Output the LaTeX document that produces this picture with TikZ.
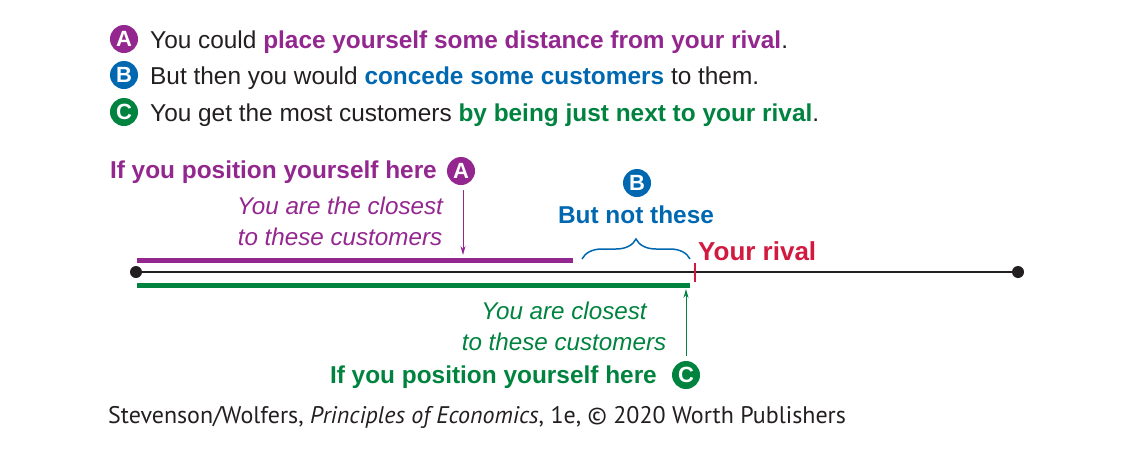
\documentclass[tikz,border=0pt]{standalone}
\usepackage{fontspec}
\setmainfont{Liberation Sans}
\newfontfamily\footfont{PT Sans}
\usetikzlibrary{decorations.pathreplacing,arrows.meta}
\definecolor{cpurple}{HTML}{93278F}
\definecolor{cblue}{HTML}{0067B1}
\definecolor{cgreen}{HTML}{00833E}
\definecolor{cred}{HTML}{D2193F}
\definecolor{cblack}{HTML}{231F20}
\begin{document}
\begin{tikzpicture}[x=1pt,y=-1pt,
  badge/.style={circle, fill=#1, text=white, font=\fontsize{22}{22}\selectfont\bfseries, inner sep=0pt, minimum size=28pt},
  legend/.style={anchor=base west, font=\fontsize{24.4}{26}\selectfont, text=cblack, inner sep=0pt},
  bigb/.style={font=\fontsize{24.4}{26}\selectfont\bfseries, inner sep=0pt},
  ital/.style={font=\fontsize{24.2}{31}\selectfont\itshape, inner sep=0pt, align=center},
  thick line/.style={line width=5pt},
  ptr/.style={line width=1pt, -{Stealth[length=9pt,width=5pt]}},
  dot/.style={circle, fill=cblack, inner sep=0pt, minimum size=12pt}
]
\useasboundingbox (0,0) rectangle (1140,453);
% legend
\node[badge=cpurple] (lA) at (124,39) {A};
\node[legend] (t1) at (150,48) {You could \textcolor{cpurple}{\bfseries place yourself some distance from your rival}.};
\node[badge=cblue] (lB) at (124,75) {B};
\node[legend] (t2) at (150,84) {But then you would \textcolor{cblue}{\bfseries concede some customers} to them.};
\node[badge=cgreen] (lC) at (124,112) {C};
\node[legend] (t3) at (150,121) {You get the most customers \textcolor{cgreen}{\bfseries by being just next to your rival}.};

% main line
\node[dot] (left) at (136,272) {};
\node[dot] (right) at (1018,272) {};
\draw[cblack, line width=1.6pt] (left) -- (right);

% purple part
\coordinate (pL) at (137,260);
\coordinate (pR) at (573,260);
\draw[cpurple, thick line] (pL) -- (pR);
\node[badge=cpurple] (bA) at (461,171) {A};
\node[bigb, text=cpurple, anchor=east] (hereA) at (437,172) {If you position yourself here};
\node[ital, text=cpurple] (closeA) at (340,221) {You are the closest\\to these customers};
\coordinate (aEnd) at (463,255);
\draw[cpurple, ptr] (bA.south) ++(2,5) -- (aEnd);

% green part
\coordinate (gL) at (137,285);
\coordinate (gR) at (690,285);
\draw[cgreen, thick line] (gL) -- (gR);
\node[badge=cgreen] (bC) at (686,375) {C};
\node[bigb, text=cgreen, anchor=east] (hereC) at (657,377) {If you position yourself here};
\node[ital, text=cgreen] (closeC) at (564,326) {You are closest\\to these customers};
\coordinate (cEnd) at (686,289);
\draw[cgreen, ptr] (bC.north) ++(0,-5) -- (cEnd);

% rival
\coordinate (rT) at (695,263);
\coordinate (rB) at (695,282);
\draw[cred, line width=2pt] (rT) -- (rB);
\node[bigb, font=\fontsize{26}{28}\selectfont\bfseries, text=cred, anchor=west] (rival) at (698,251) {Your rival};

% brace
\coordinate (brL) at (582,259);
\coordinate (brR) at (690,259);
\draw[cblue, line width=1.5pt, decorate, decoration={brace, amplitude=20pt}] (brL) -- (brR);
\node[bigb, text=cblue] (notthese) at (636,215) {But not these};
\node[badge=cblue] (bB) at (637,183) {B};

% footer
\node[anchor=base west, font=\footfont\fontsize{24}{26}\selectfont, text=cblack, inner sep=0pt] (foot) at (108,423) {Stevenson/Wolfers, \textit{Principles of Economics}, 1e, \textcopyright{} 2020 Worth Publishers};
\end{tikzpicture}
\end{document}
